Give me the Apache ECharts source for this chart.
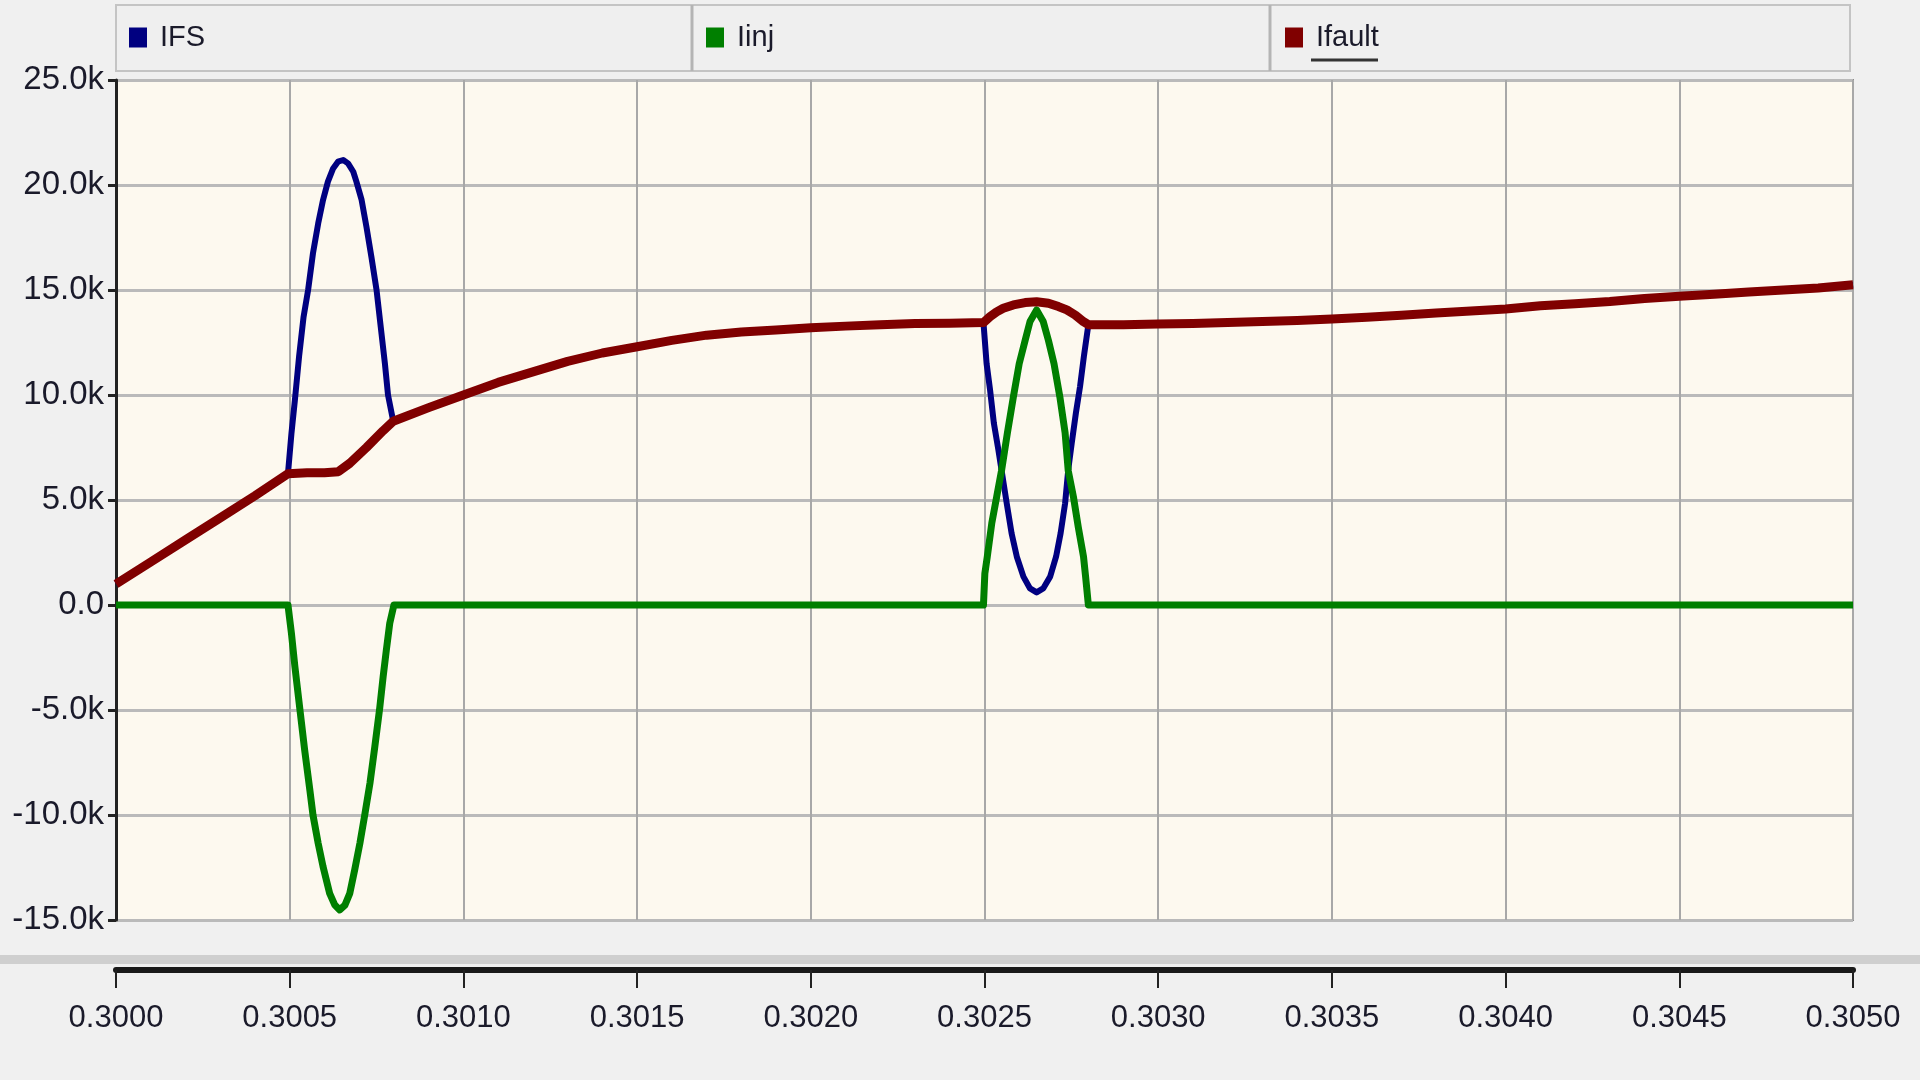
<!DOCTYPE html>
<html>
<head>
<meta charset="utf-8">
<script src="https://cdn.jsdelivr.net/npm/echarts@6/dist/echarts.min.js"></script>
<style>
html,body{margin:0;padding:0;background:#f0f0f0;}
#chart{width:1920px;height:1080px;}
</style>
</head>
<body>
<div id="chart"></div>
<script>
// ---- data (time in s, current in kA) ----
const seriesNames = ['IFS', 'Iinj', 'Ifault'];
const seriesColors = ['#000080', '#007f00', '#800000'];

const ifaultTime = [0.30000,0.30010,0.30020,0.30030,0.30040,0.300495,0.30055,0.30060,0.30064,0.300673,0.300721,0.300769,0.300798,
  0.30090,0.30100,0.30110,0.30120,0.30130,0.30140,0.30150,0.30160,0.30170,0.30180,0.30190,0.30200,0.30210,0.30220,0.30230,0.30240,0.302497,
  0.302516,0.302535,0.302554,0.302583,0.302617,0.302650,0.302684,0.302713,0.302737,0.302761,0.302785,0.302799,
  0.30290,0.30300,0.30310,0.30320,0.30330,0.30340,0.30350,0.30360,0.30370,0.30380,
  0.30390,0.30400,0.30410,0.30420,0.30430,0.30440,0.30450,0.30460,0.30470,0.30480,0.30490,0.30500];
const ifaultValue = [1.0,2.05,3.1,4.15,5.2,6.25,6.3,6.3,6.35,6.75,7.5,8.3,8.75,
  9.4,10.0,10.6,11.1,11.6,12.0,12.3,12.6,12.85,13.0,13.1,13.2,13.28,13.35,13.4,13.42,13.45,
  13.73,13.96,14.13,14.29,14.40,14.44,14.37,14.21,14.05,13.81,13.49,13.35,
  13.35,13.38,13.4,13.45,13.5,13.55,13.62,13.7,13.8,13.9,
  14.0,14.1,14.25,14.35,14.45,14.6,14.7,14.8,14.9,15.0,15.1,15.25];

const ifsTime = [0.30000,0.30010,0.30020,0.30030,0.30040,0.300495,0.300505,0.300515,0.300527,0.300540,0.300553,0.300567,0.300582,0.300596,
  0.300610,0.300625,0.300639,0.300654,0.300668,0.300683,0.300692,0.300707,0.300721,0.300735,0.300750,0.300762,0.300774,0.300783,0.300798,
  0.30090,0.30100,0.30110,0.30120,0.30130,0.30140,0.30150,0.30160,0.30170,0.30180,0.30190,0.30200,0.30210,0.30220,0.30230,0.30240,
  0.302497,0.302506,0.302516,0.302527,0.302540,0.302549,0.302564,0.302578,0.302593,0.302612,0.302631,0.302650,0.302669,0.302689,
  0.302706,0.302719,0.302732,0.302741,0.302751,0.302763,0.302775,0.302786,0.302799,
  0.30290,0.30300,0.30310,0.30320,0.30330,0.30340,0.30350,0.30360,0.30370,0.30380,0.30390,0.30400,0.30410,0.30420,
  0.30430,0.30440,0.30450,0.30460,0.30470,0.30480,0.30490,0.30500];
const ifsValue = [1.0,2.05,3.1,4.15,5.2,6.25,8.17,9.76,11.83,13.73,15.0,16.75,18.17,19.29,
  20.16,20.79,21.11,21.19,21.03,20.63,20.16,19.29,18.0,16.59,15.0,13.25,11.51,10.0,8.75,
  9.4,10.0,10.6,11.1,11.6,12.0,12.3,12.6,12.85,13.0,13.1,13.2,13.28,13.35,13.4,13.42,
  13.45,11.5,10.24,8.65,7.38,6.43,4.84,3.41,2.3,1.35,0.79,0.6,0.79,1.35,
  2.3,3.41,4.84,6.43,7.7,9.13,10.4,11.83,13.35,
  13.35,13.38,13.4,13.45,13.5,13.55,13.62,13.7,13.8,13.9,14.0,14.1,14.25,14.35,
  14.45,14.6,14.7,14.8,14.9,15.0,15.1,15.25];

const iinjTime = [0.30000,0.300495,0.300505,0.300515,0.300529,0.300543,0.300558,0.300567,0.300582,0.300596,0.300615,0.300630,0.300644,
  0.300659,0.300673,0.300687,0.300702,0.300716,0.300731,0.300745,0.300759,0.300769,0.300778,0.300788,0.300800,
  0.302497,0.302501,0.302508,0.302521,0.302535,0.302549,0.302566,0.302583,0.302600,0.302617,0.302631,0.302650,0.302669,
  0.302684,0.302700,0.302717,0.302732,0.302741,0.302756,0.302770,0.302785,0.302791,0.302799,0.30500];
const iinjValue = [0,0,-1.35,-2.94,-4.92,-6.9,-8.81,-10.0,-11.35,-12.46,-13.73,-14.29,-14.52,
  -14.29,-13.73,-12.62,-11.35,-10.0,-8.49,-6.75,-4.92,-3.41,-2.17,-0.87,0,
  0,1.5,2.3,3.9,5.15,6.4,8.2,9.9,11.5,12.6,13.5,14.05,13.5,
  12.6,11.5,9.9,8.2,6.4,5.15,3.7,2.3,1.35,0,0];

const yTickValues = [-15,-10,-5,0,5,10,15,20,25];
const xTickValues = [0.3000,0.3005,0.3010,0.3015,0.3020,0.3025,0.3030,0.3035,0.3040,0.3045,0.3050];

// ---- chart ----
const pair = (ts, vs) => ts.map((t, i) => [t, vs[i]]);
const font = "'Liberation Sans', Arial, sans-serif";
const chart = echarts.init(document.getElementById('chart'));

const legendLefts = [124, 701, 1280];
const option = {
  animation: false,
  backgroundColor: '#f0f0f0',
  grid: {
    left: 116, right: 67, top: 80, bottom: 160,
    show: true, backgroundColor: '#fdf9ef', borderColor: '#8c8c8c', borderWidth: 2
  },
  legend: seriesNames.map((n, i) => ({
    data: [n], left: legendLefts[i], top: 18, icon: 'rect', itemWidth: 18, itemHeight: 20,
    selectedMode: false,
    textStyle: { fontSize: 29, fontFamily: font, color: '#1a1a2a', padding: [0, 0, 0, 8] }
  })),
  xAxis: {
    type: 'value', min: xTickValues[0], max: xTickValues[xTickValues.length - 1], interval: 0.0005,
    position: 'bottom', offset: 50,
    axisLine: { show: true, onZero: false, lineStyle: { color: '#1a1a1a', width: 6 } },
    axisTick: { show: true, length: 18, lineStyle: { color: '#222', width: 2 } },
    axisLabel: { fontSize: 31, fontFamily: font, color: '#1a1a2a', margin: 33, formatter: v => v.toFixed(4) },
    splitLine: { show: true, lineStyle: { color: '#a8a8a8', width: 2 } }
  },
  yAxis: {
    type: 'value', min: yTickValues[0], max: yTickValues[yTickValues.length - 1], interval: 5,
    axisLine: { show: true, lineStyle: { color: '#222', width: 3 } },
    axisTick: { show: true, length: 8, lineStyle: { color: '#222', width: 3 } },
    axisLabel: { fontSize: 33, fontFamily: font, color: '#1a1a2a', margin: 12,
      formatter: v => v === 0 ? '0.0' : v.toFixed(1) + 'k' },
    splitLine: { show: true, lineStyle: { color: '#bababa', width: 3 } }
  },
  graphic: [
    { type: 'rect', shape: { x: 116, y: 5, width: 1734, height: 66 }, style: { fill: '#efefef', stroke: '#c4c4c4', lineWidth: 2 }, z: -1 },
    { type: 'line', shape: { x1: 692, y1: 5, x2: 692, y2: 71 }, style: { stroke: '#b4b4b4', lineWidth: 3 } },
    { type: 'line', shape: { x1: 1270, y1: 5, x2: 1270, y2: 71 }, style: { stroke: '#b4b4b4', lineWidth: 3 } },
    { type: 'line', shape: { x1: 1311, y1: 60, x2: 1378, y2: 60 }, style: { stroke: '#333', lineWidth: 3 } },
    { type: 'rect', shape: { x: 0, y: 955, width: 1920, height: 9 }, style: { fill: '#cfcfcf' } }
  ],
  series: [
    { name: seriesNames[0], type: 'line', data: pair(ifsTime, ifsValue), showSymbol: false, symbol: 'none',
      color: seriesColors[0], lineStyle: { color: seriesColors[0], width: 6, join: 'round' } },
    { name: seriesNames[1], type: 'line', data: pair(iinjTime, iinjValue), showSymbol: false, symbol: 'none',
      color: seriesColors[1], lineStyle: { color: seriesColors[1], width: 7, join: 'round' } },
    { name: seriesNames[2], type: 'line', data: pair(ifaultTime, ifaultValue), showSymbol: false, symbol: 'none',
      color: seriesColors[2], lineStyle: { color: seriesColors[2], width: 9, join: 'round' } }
  ]
};
chart.setOption(option);
</script>
</body>
</html>
